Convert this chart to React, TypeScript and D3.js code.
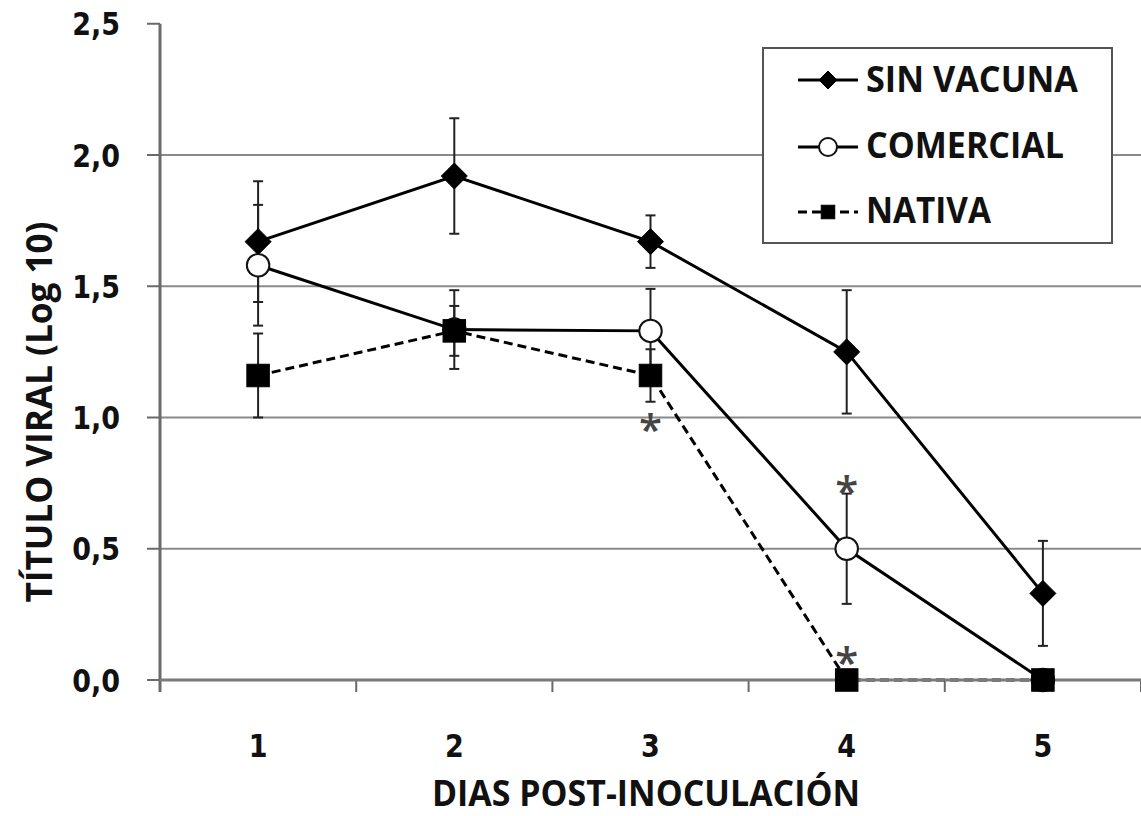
import React from "react";
import * as d3 from "d3";

const days = ["1", "2", "3", "4", "5"];
const yTicks = [0, 0.5, 1.0, 1.5, 2.0, 2.5];

const sinVacuna = [1.67, 1.92, 1.67, 1.25, 0.33];
const sinVacunaErr = [0.23, 0.22, 0.1, 0.235, 0.2];
const comercial = [1.58, 1.335, 1.33, 0.5, 0.0];
const comercialErr = [0.23, 0.15, 0.16, 0.21, 0];
const nativa = [1.16, 1.33, 1.16, 0.0, 0.0];
const nativaErr = [0.16, 0.095, 0.1, 0, 0];

const seriesNames = ["SIN VACUNA", "COMERCIAL", "NATIVA"];
const asterisks = [
  { series: "NATIVA", day: "3", pos: "below" },
  { series: "COMERCIAL", day: "4", pos: "above" },
  { series: "NATIVA", day: "4", pos: "above" },
];

const W = 1141;
const H = 816;
const left = 160;
const right = 1141;
const bottom = 680;

type Series = { name: string; values: number[]; err: number[]; marker: string; dashed: boolean };

const series: Series[] = [
  { name: seriesNames[0], values: sinVacuna, err: sinVacunaErr, marker: "diamond", dashed: false },
  { name: seriesNames[1], values: comercial, err: comercialErr, marker: "circle", dashed: false },
  { name: seriesNames[2], values: nativa, err: nativaErr, marker: "square", dashed: true },
];

function Marker({ type, x, y, s }: { type: string; x: number; y: number; s: number }) {
  if (type === "diamond") {
    const h = s * 0.5;
    return <path d={`M${x},${y - h}L${x + h},${y}L${x},${y + h}L${x - h},${y}Z`} fill="#000" stroke="#000" strokeWidth={1} />;
  }
  if (type === "circle") {
    return <circle cx={x} cy={y} r={s * 0.45} fill="#fff" stroke="#111" strokeWidth={2} />;
  }
  const h = s * 0.45;
  return <rect x={x - h} y={y - h} width={2 * h} height={2 * h} fill="#000" stroke="#000" strokeWidth={1} />;
}

export default function App() {
  const x = d3.scaleBand<string>().domain(days).range([left, right]).padding(0);
  const cx = (d: string) => (x(d) as number) + x.bandwidth() / 2;
  const y = d3.scaleLinear().domain([0, 2.5]).range([bottom, 23.75]);
  const line = d3
    .line<number>()
    .x((_, i) => cx(days[i]))
    .y((v) => y(v));

  const boundaries = days.map((d) => x(d) as number).concat([right]);

  const tickFont = "'DejaVu Sans', sans-serif";
  const titleFont = "'Open Sans', sans-serif";

  const legendRows = [
    { name: seriesNames[0], marker: "diamond", dashed: false, y: 80, base: 92, len: 212, s: 18 },
    { name: seriesNames[1], marker: "circle", dashed: false, y: 147, base: 158, len: 198, s: 20 },
    { name: seriesNames[2], marker: "square", dashed: true, y: 212, base: 223, len: 125, s: 15 },
  ];

  return (
    <svg width={W} height={H} style={{ position: "absolute", left: 0, top: 0, background: "#fff" }}>
      <rect x={0} y={0} width={W} height={H} fill="#fff" />
      {/* gridlines */}
      {yTicks.filter((t) => t > 0 && t < 2.5).map((t) => (
        <line key={t} x1={left} x2={right} y1={y(t)} y2={y(t)} stroke="#8a8a8a" strokeWidth={2} />
      ))}
      {/* y axis */}
      <line x1={left} x2={left} y1={y(2.5)} y2={bottom + 12} stroke="#6a6a6a" strokeWidth={3} />
      {yTicks.map((t) => (
        <line key={"yt" + t} x1={left - 13} x2={left} y1={y(t)} y2={y(t)} stroke="#6a6a6a" strokeWidth={2} />
      ))}
      {yTicks.map((t) => (
        <text
          key={"yl" + t}
          transform={`translate(120,${y(t) + 11.5}) scale(1,1.2)`}
          textAnchor="end"
          fontFamily={tickFont}
          fontWeight="bold"
          fontSize={27}
          fill="#111"
        >
          {t.toFixed(1).replace(".", ",")}
        </text>
      ))}
      {/* x tick marks */}
      {boundaries.map((b, i) => (
        <line key={"xt" + i} x1={b} x2={b} y1={bottom} y2={bottom + 12} stroke="#6a6a6a" strokeWidth={2} />
      ))}
      {days.map((d) => (
        <text
          key={"xl" + d}
          transform={`translate(${cx(d)},757) scale(1,1.2)`}
          textAnchor="middle"
          fontFamily={tickFont}
          fontWeight="bold"
          fontSize={27}
          fill="#111"
        >
          {d}
        </text>
      ))}
      {/* axis titles */}
      <text
        x={646}
        y={806}
        textAnchor="middle"
        fontFamily={titleFont}
        fontWeight={700}
        fontSize={36}
        textLength={428}
        lengthAdjust="spacingAndGlyphs"
        fill="#111"
      >
        DIAS POST-INOCULACIÓN
      </text>
      <text
        transform="translate(52,412) rotate(-90)"
        textAnchor="middle"
        fontFamily={titleFont}
        fontWeight={700}
        fontSize={36}
        textLength={381}
        lengthAdjust="spacingAndGlyphs"
        fill="#111"
      >
        TÍTULO VIRAL (Log 10)
      </text>

      {/* error bars */}
      {series.map((s) =>
        s.values.map((v, i) =>
          s.err[i] > 0 ? (
            <g key={s.name + "e" + i} stroke="#222" strokeWidth={2}>
              <line x1={cx(days[i])} x2={cx(days[i])} y1={y(v + s.err[i])} y2={y(v - s.err[i])} />
              <line x1={cx(days[i]) - 5} x2={cx(days[i]) + 5} y1={y(v + s.err[i])} y2={y(v + s.err[i])} />
              <line x1={cx(days[i]) - 5} x2={cx(days[i]) + 5} y1={y(v - s.err[i])} y2={y(v - s.err[i])} />
            </g>
          ) : null
        )
      )}
      {/* lines */}
      {series.map((s) => (
        <path
          key={s.name + "l"}
          d={line(s.values) || ""}
          fill="none"
          stroke="#000"
          strokeWidth={3}
          strokeDasharray={s.dashed ? "9,5" : undefined}
        />
      ))}
      {/* x axis line on top of the lines */}
      <line x1={left} x2={right} y1={bottom} y2={bottom} stroke="#7a7a7a" strokeWidth={3} />
      {/* markers */}
      {series.map((s) =>
        s.values.map((v, i) => (
          <Marker key={s.name + "m" + i} type={s.marker} x={cx(days[i])} y={y(v)} s={s.marker === "square" ? 25 : s.marker === "circle" ? 25 : 26} />
        ))
      )}
      {/* asterisks */}
      {asterisks.map((a, k) => {
        const s = series.find((q) => q.name === a.series)!;
        const i = days.indexOf(a.day);
        const v = s.values[i];
        const e = s.err[i];
        let c: number;
        if (a.pos === "below") c = y(v - e) + 20;
        else c = e > 0 ? y(v + e) - 10 : y(v) - 25;
        return (
          <text
            key={"ast" + k}
            x={cx(a.day)}
            y={c + 22}
            textAnchor="middle"
            fontFamily={titleFont}
            fontWeight={600}
            fontSize={42}
            fill="#444"
          >
            *
          </text>
        );
      })}

      {/* legend */}
      <rect x={763} y={48} width={349} height={195} fill="#fff" stroke="#555" strokeWidth={2} />
      {legendRows.map((r) => (
        <g key={"lg" + r.name}>
          <line
            x1={798}
            x2={858}
            y1={r.y}
            y2={r.y}
            stroke="#000"
            strokeWidth={3}
            strokeDasharray={r.dashed ? "9,5" : undefined}
          />
          <Marker type={r.marker} x={828} y={r.y} s={r.s} />
          <text
            x={866}
            y={r.base}
            fontFamily={titleFont}
            fontWeight={700}
            fontSize={36}
            textLength={r.len}
            lengthAdjust="spacingAndGlyphs"
            fill="#111"
          >
            {r.name}
          </text>
        </g>
      ))}
    </svg>
  );
}
